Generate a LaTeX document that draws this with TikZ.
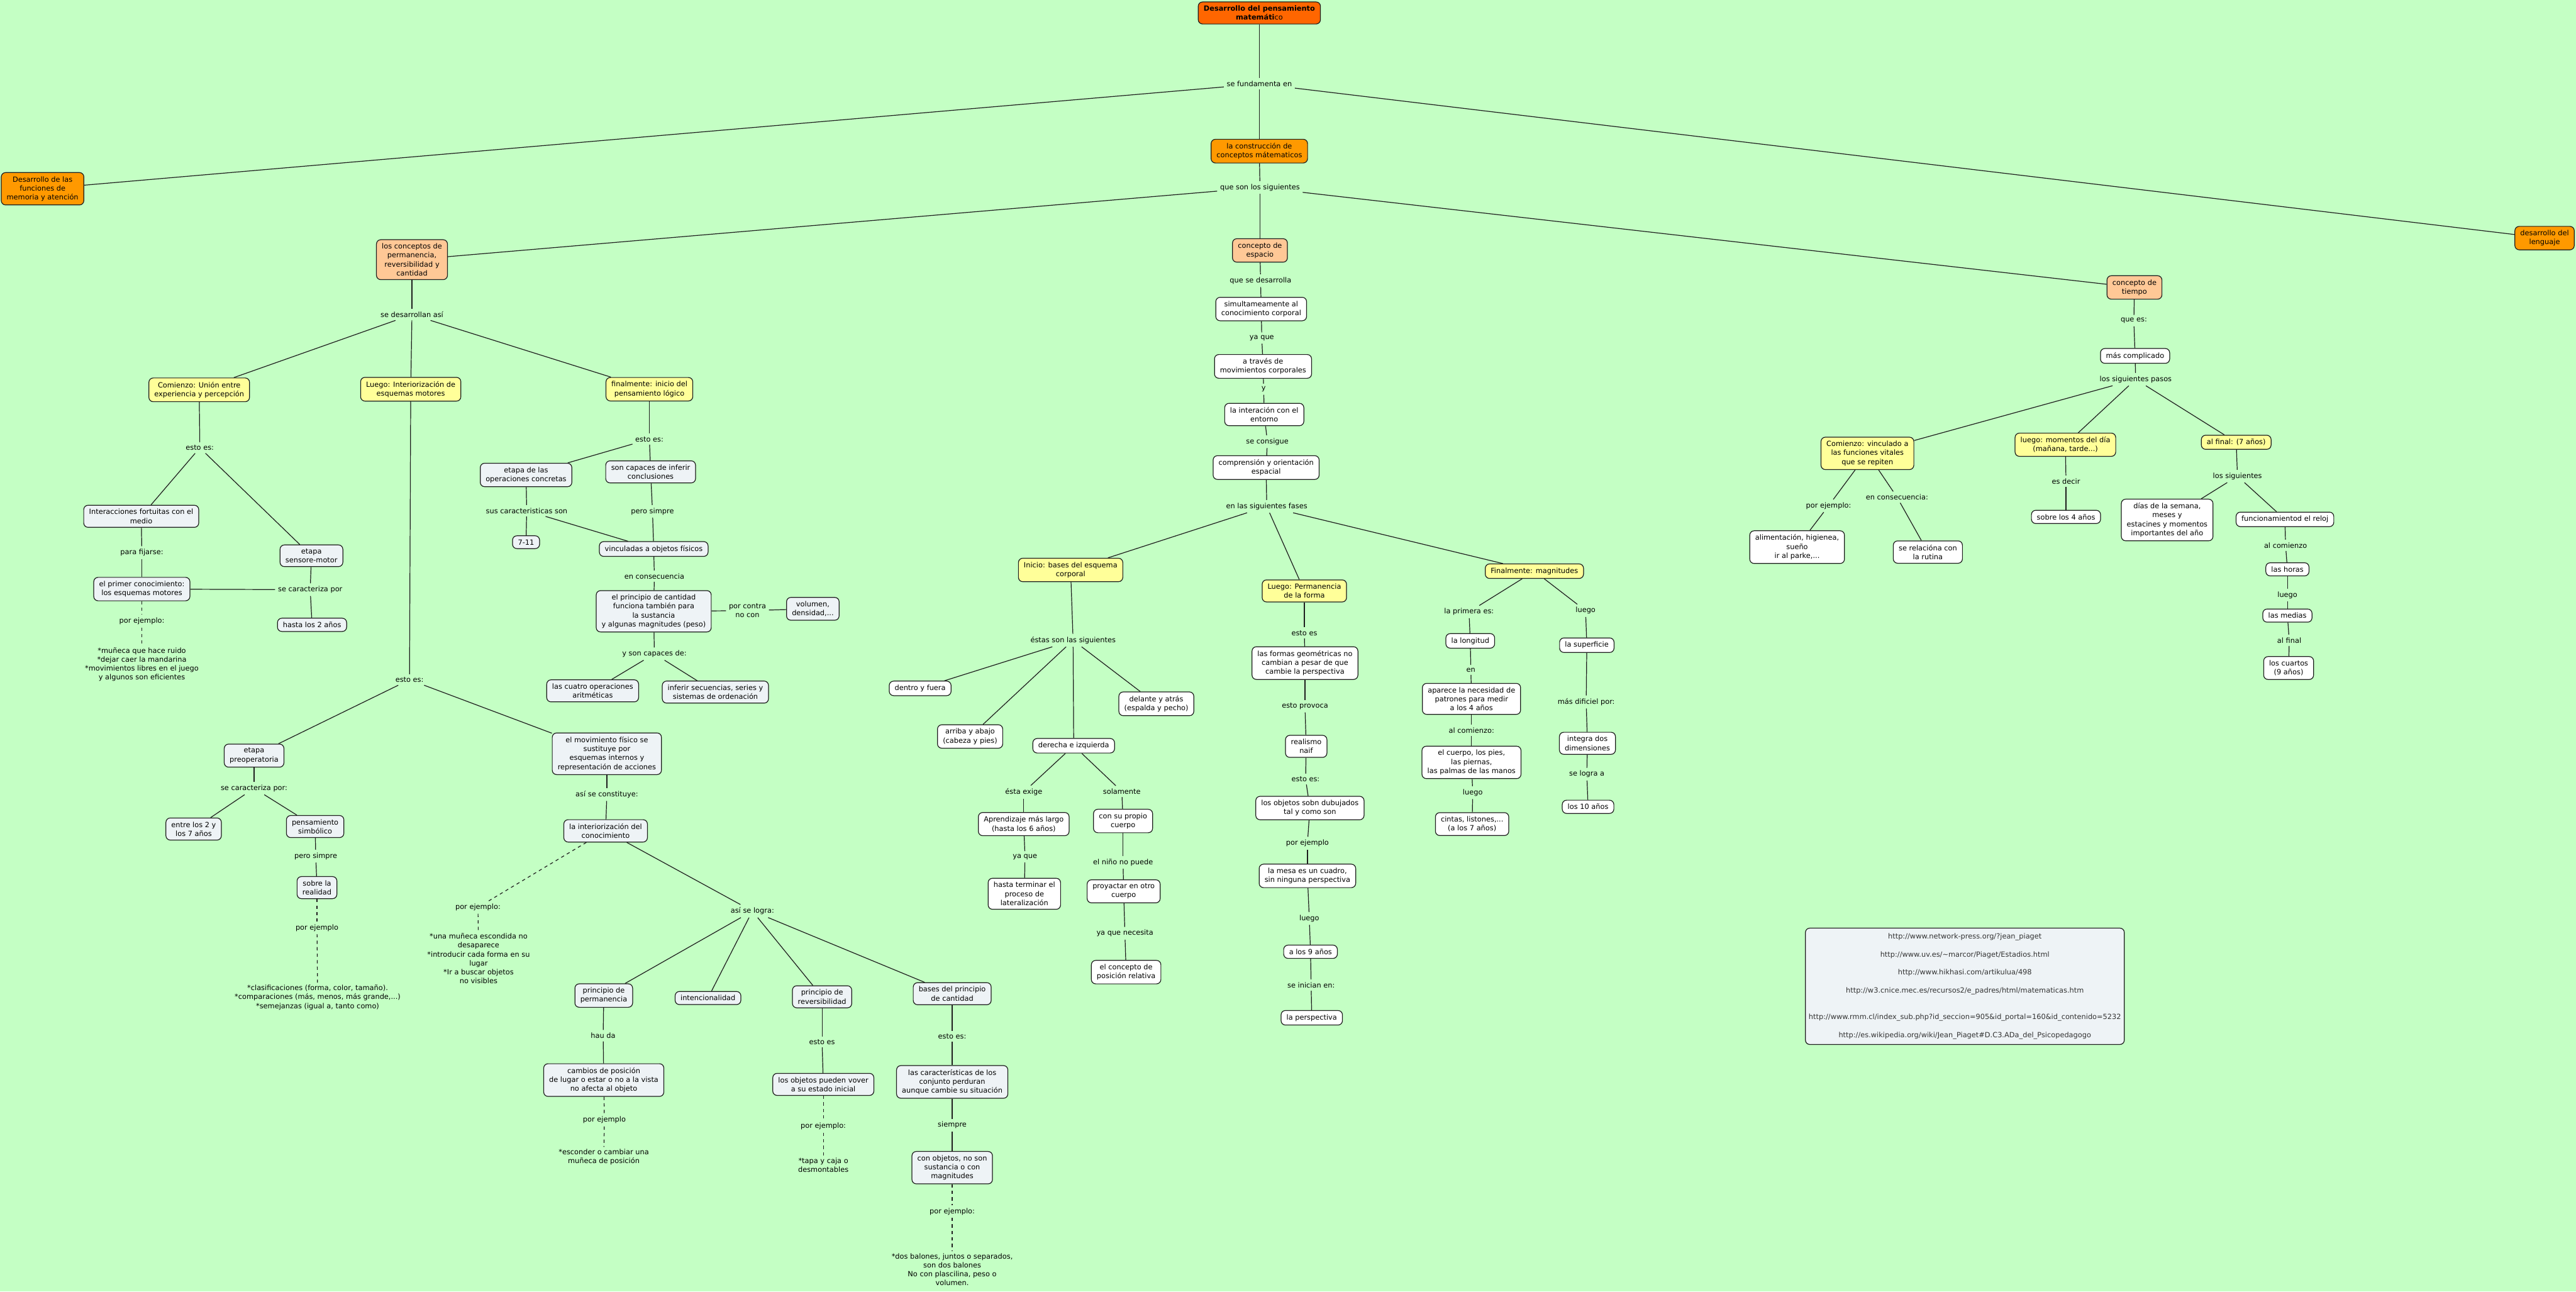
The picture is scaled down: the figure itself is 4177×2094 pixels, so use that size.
\documentclass[tikz,border=0pt]{standalone}
\usepackage{fontspec}
\setmainfont{DejaVu Sans}
\usepackage{tikz}
\usepackage{xcolor}

\definecolor{fondo}{HTML}{C4FFC4}
\definecolor{naranjaosc}{HTML}{FF6600}
\definecolor{naranja}{HTML}{FF9900}
\definecolor{melocoton}{HTML}{FFC896}
\definecolor{amarillo}{HTML}{FFFF99}
\definecolor{gris}{HTML}{EEF3F6}
\definecolor{trazo}{HTML}{1E1E1E}
\newcommand{\mapfont}{\fontsize{6.6}{8.25}\selectfont}

\begin{document}
\begin{tikzpicture}[x=0.02cm, y=-0.02cm,
    base/.style={draw=trazo, rounded corners=4pt, line width=0.7pt, align=center,
      inner xsep=5pt, inner ysep=3.5pt, font=\mapfont, text=black},
    tit/.style={base, fill=naranjaosc},
    nar/.style={base, fill=naranja},
    mel/.style={base, fill=melocoton},
    ama/.style={base, fill=amarillo},
    gri/.style={base, fill=gris},
    bla/.style={base, fill=white},
    enl/.style={align=center, inner sep=2.5pt, font=\mapfont},
    nota/.style={align=center, inner sep=2pt, font=\mapfont},
    con/.style={draw=trazo, line width=0.7pt},
    conej/.style={con, dashed}]

  % Background
  \useasboundingbox (0,0) rectangle (4177,2094);
  \fill[fondo] (0,0) rectangle (4177,2094);

  % Top level
  \node[tit] (titulo) at (2042,21) {\textbf{Desarrollo del pensamiento}\\\textbf{matemáti}co};
  \node[enl] (fund) at (2042,136) {se fundamenta en};
  \node[nar] (memo) at (69,306) {Desarrollo de las\\funciones de\\memoria y atención};
  \node[nar] (cons) at (2042,245) {la construcción de\\conceptos mátematicos};
  \node[nar] (leng) at (4126,386) {desarrollo del\\lenguaje};
  \node[enl] (sig) at (2043,304) {que son los siguientes};
  \node[mel] (perm) at (668,421) {los conceptos de\\permanencia,\\reversibilidad y\\cantidad};
  \node[mel] (esp) at (2043,406) {concepto de\\espacio};
  \node[mel] (tiem) at (3461,466) {concepto de\\tiempo};

  % Permanencia, reversibilidad y cantidad
  \node[enl] (desa) at (668,510) {se desarrollan así};
  \node[ama] (com) at (323,632) {Comienzo: Unión entre\\experiencia y percepción};
  \node[ama] (lue) at (666,631) {Luego: Interiorización de\\esquemas motores};
  \node[ama] (fin) at (1053,631) {finalmente: inicio del\\pensamiento lógico};

  \node[enl] (ee1) at (324,726) {esto es:};
  \node[gri] (inter) at (229,837) {Interacciones fortuitas con el\\medio};
  \node[gri] (senso) at (505,901) {etapa\\sensore-motor};
  \node[enl] (fij) at (230,896) {para fijarse:};
  \node[gri] (prim) at (230,955) {el primer conocimiento:\\los esquemas motores};
  \node[enl] (carac1) at (503,956) {se caracteriza por};
  \node[gri] (dos) at (506,1013) {hasta los 2 años};
  \node[enl] (ej1) at (230,1007) {por ejemplo:};
  \node[nota] (txt1) at (230,1077) {*muñeca que hace ruido\\*dejar caer la mandarina\\*movimientos libres en el juego\\y algunos son eficientes};

  \node[enl] (ee2) at (1053,712) {esto es:};
  \node[gri] (oper) at (853,770) {etapa de las\\operaciones concretas};
  \node[gri] (infe) at (1055,765) {son capaces de inferir\\conclusiones};
  \node[enl] (scar) at (854,828) {sus caracteristicas son};
  \node[enl] (ps1) at (1058,829) {pero simpre};
  \node[gri] (siete) at (853,879) {7-11};
  \node[gri] (vinc) at (1060,890) {vinculadas a objetos físicos};
  \node[enl] (cons2) at (1061,934) {en consecuencia};
  \node[gri] (pcant) at (1060,991) {el principio de cantidad\\funciona también para\\la sustancia\\y algunas magnitudes (peso)};
  \node[enl] (contra) at (1212,990) {por contra\\no con};
  \node[gri] (vol) at (1318,987) {volumen,\\densidad,...};
  \node[enl] (capa) at (1061,1060) {y son capaces de:};
  \node[gri] (cuatro) at (961,1120) {las cuatro operaciones\\aritméticas};
  \node[gri] (secu) at (1160,1122) {inferir secuencias, series y\\sistemas de ordenación};

  \node[enl] (ee3) at (664,1102) {esto es:};
  \node[gri] (preo) at (412,1225) {etapa\\preoperatoria};
  \node[enl] (carac2) at (412,1278) {se caracteriza por:};
  \node[gri] (entre) at (314,1344) {entre los 2 y\\los 7 años};
  \node[gri] (simb) at (511,1340) {pensamiento\\simbólico};
  \node[enl] (ps2) at (512,1388) {pero simpre};
  \node[gri] (real) at (514,1439) {sobre la\\realidad};
  \node[enl] (ej2) at (514,1504) {por ejemplo};
  \node[nota] (txt2) at (515,1617) {*clasificaciones (forma, color, tamaño).\\*comparaciones (más, menos, más grande,...)\\*semejanzas (igual a, tanto como)};

  \node[gri] (movi) at (984,1222) {el movimiento físico se\\sustituye por\\esquemas internos y\\representación de acciones};
  \node[enl] (const) at (984,1288) {así se constituye:};
  \node[gri] (inte) at (982,1347) {la interiorización del\\conocimiento};
  \node[enl] (ej3) at (775,1471) {por ejemplo:};
  \node[nota] (txt3) at (776,1554) {*una muñeca escondida no\\desaparece\\*introducir cada forma en su\\lugar\\*Ir a buscar objetos\\no visibles};
  \node[enl] (logra) at (1220,1477) {así se logra:};
  \node[gri] (ppe) at (979,1614) {principio de\\permanencia};
  \node[gri] (intc) at (1148,1618) {intencionalidad};
  \node[gri] (prev) at (1333,1616) {principio de\\reversibilidad};
  \node[gri] (bcant) at (1544,1611) {bases del principio\\de cantidad};
  \node[enl] (hau) at (978,1679) {hau da};
  \node[gri] (camb) at (979,1751) {cambios de posición\\de lugar o estar o no a la vista\\no afecta al objeto};
  \node[enl] (ej4) at (980,1816) {por ejemplo};
  \node[nota] (txt4) at (979,1876) {*esconder o cambiar una\\muñeca de posición};
  \node[enl] (ee4) at (1333,1689) {esto es};
  \node[gri] (vuel) at (1335,1758) {los objetos pueden vover\\a su estado inicial};
  \node[enl] (ej5) at (1335,1826) {por ejemplo:};
  \node[nota] (txt5) at (1335,1889) {*tapa y caja o\\desmontables};
  \node[enl] (ee5) at (1544,1680) {esto es:};
  \node[gri] (cjto) at (1544,1754) {las características de los\\conjunto perduran\\aunque cambie su situación};
  \node[enl] (siem) at (1544,1824) {siempre};
  \node[gri] (cobj) at (1544,1893) {con objetos, no son\\sustancia o con\\magnitudes};
  \node[enl] (ej6) at (1544,1964) {por ejemplo:};
  \node[nota] (txt6) at (1544,2058) {*dos balones, juntos o separados,\\son dos balones\\No con plascilina, peso o\\volumen.};

  % Espacio
  \node[enl] (desr) at (2044,455) {que se desarrolla};
  \node[bla] (simu) at (2045,501) {simultameamente al\\conocimiento corporal};
  \node[enl] (yq1) at (2046,548) {ya que};
  \node[bla] (trav) at (2048,594) {a través de\\movimientos corporales};
  \node[enl] (yy) at (2049,631) {y};
  \node[bla] (ent) at (2050,672) {la interación con el\\entorno};
  \node[enl] (cons3) at (2055,716) {se consigue};
  \node[bla] (orie) at (2053,758) {comprensión y orientación\\espacial};
  \node[enl] (fases) at (2054,821) {en las siguientes fases};
  \node[ama] (ini) at (1736,924) {Inicio: bases del esquema\\corporal};
  \node[ama] (lpf) at (2115,958) {Luego: Permanencia\\de la forma};
  \node[ama] (mag) at (2488,926) {Finalmente: magnitudes};

  \node[enl] (estas) at (1740,1038) {éstas son las siguientes};
  \node[bla] (dent) at (1492,1116) {dentro y fuera};
  \node[bla] (arri) at (1573,1194) {arriba y abajo\\(cabeza y pies)};
  \node[bla] (dere) at (1741,1209) {derecha e izquierda};
  \node[bla] (dela) at (1875,1141) {delante y atrás\\(espalda y pecho)};
  \node[enl] (exig) at (1660,1284) {ésta exige};
  \node[enl] (sola) at (1819,1283) {solamente};
  \node[bla] (apre) at (1660,1336) {Aprendizaje más largo\\(hasta los 6 años)};
  \node[bla] (prop) at (1821,1331) {con su propio\\cuerpo};
  \node[enl] (yq2) at (1662,1389) {ya que};
  \node[bla] (late) at (1661,1449) {hasta terminar el\\proceso de\\lateralización};
  \node[enl] (nino) at (1821,1398) {el niño no puede};
  \node[bla] (proy) at (1822,1445) {proyactar en otro\\cuerpo};
  \node[enl] (nece) at (1824,1513) {ya que necesita};
  \node[bla] (rela) at (1826,1576) {el concepto de\\posición relativa};

  \node[enl] (ee6) at (2115,1026) {esto es};
  \node[bla] (geom) at (2116,1075) {las formas geométricas no\\cambian a pesar de que\\cambie la perspectiva};
  \node[enl] (prov) at (2116,1145) {esto provoca};
  \node[bla] (naif) at (2118,1210) {realismo\\naif};
  \node[enl] (ee7) at (2117,1263) {esto es:};
  \node[bla] (dibu) at (2124,1310) {los objetos sobn dubujados\\tal y como son};
  \node[enl] (ej7) at (2120,1367) {por ejemplo};
  \node[bla] (mesa) at (2120,1420) {la mesa es un cuadro,\\sin ninguna perspectiva};
  \node[enl] (lg1) at (2123,1489) {luego};
  \node[bla] (nueve) at (2125,1543) {a los 9 años};
  \node[enl] (inic) at (2126,1597) {se inician en:};
  \node[bla] (pers) at (2127,1650) {la perspectiva};

  \node[enl] (prim2) at (2382,992) {la primera es:};
  \node[enl] (lg2) at (2571,990) {luego};
  \node[bla] (long) at (2384,1039) {la longitud};
  \node[enl] (en) at (2385,1086) {en};
  \node[bla] (patr) at (2386,1133) {aparece la necesidad de\\patrones para medir\\a los 4 años};
  \node[enl] (alc1) at (2386,1184) {al comienzo:};
  \node[bla] (cuer) at (2386,1236) {el cuerpo, los pies,\\las piernas,\\las palmas de las manos};
  \node[enl] (lg3) at (2388,1285) {luego};
  \node[bla] (cint) at (2387,1336) {cintas, listones,...\\(a los 7 años)};
  \node[bla] (supe) at (2573,1046) {la superficie};
  \node[enl] (difi) at (2572,1138) {más dificiel por:};
  \node[bla] (dime) at (2574,1205) {integra dos\\dimensiones};
  \node[enl] (logr) at (2573,1255) {se logra a};
  \node[bla] (diez) at (2575,1308) {los 10 años};

  % Tiempo
  \node[enl] (quees) at (3460,520) {que es:};
  \node[bla] (comp) at (3462,577) {más complicado};
  \node[enl] (pasos) at (3463,615) {los siguientes pasos};
  \node[ama] (vita) at (3028,735) {Comienzo: vinculado a\\las funciones vitales\\que se repiten};
  \node[ama] (mome) at (3349,721) {luego: momentos del día\\(mañana, tarde...)};
  \node[ama] (afin) at (3626,717) {al final: (7 años)};
  \node[enl] (ej8) at (2965,820) {por ejemplo:};
  \node[enl] (enc) at (3076,806) {en consecuencia:};
  \node[bla] (alim) at (2914,887) {alimentación, higienea,\\sueño\\ir al parke,...};
  \node[bla] (ruti) at (3126,895) {se relacióna con\\la rutina};
  \node[enl] (dec) at (3350,780) {es decir};
  \node[bla] (cuat) at (3350,838) {sobre los 4 años};
  \node[enl] (lsig) at (3628,772) {los siguientes};
  \node[bla] (dias) at (3514,843) {días de la semana,\\meses y\\estacines y momentos\\importantes del año};
  \node[bla] (relo) at (3705,842) {funcionamientod el reloj};
  \node[enl] (alc2) at (3706,884) {al comienzo};
  \node[bla] (hora) at (3709,923) {las horas};
  \node[enl] (lg4) at (3709,965) {luego};
  \node[bla] (medi) at (3709,998) {las medias};
  \node[enl] (alf) at (3712,1038) {al final};
  \node[bla] (cuar) at (3711,1083) {los cuartos\\(9 años)};

  % Sources
  \node[gri, text=black!80, inner xsep=3pt, inner ysep=5pt] (urls) at (3186,1599) {%
    http://www.network-press.org/?jean\_piaget\\[8.25pt]
    http://www.uv.es/\textasciitilde marcor/Piaget/Estadios.html\\[8.25pt]
    http://www.hikhasi.com/artikulua/498\\[8.25pt]
    http://w3.cnice.mec.es/recursos2/e\_padres/html/matematicas.htm\\[16.5pt]
    http://www.rmm.cl/index\_sub.php?id\_seccion=905\&id\_portal=160\&id\_contenido=5232\\[8.25pt]
    http://es.wikipedia.org/wiki/Jean\_Piaget\#D.C3.ADa\_del\_Psicopedagogo};

  % Connectors
  \foreach \a/\b in {titulo/fund, fund/memo, fund/cons, fund/leng, cons/sig, sig/perm, sig/esp, sig/tiem,
      perm/desa, desa/com, desa/lue, desa/fin,
      com/ee1, ee1/inter, ee1/senso, inter/fij, fij/prim, senso/carac1, carac1/prim, carac1/dos,
      fin/ee2, ee2/oper, ee2/infe, oper/scar, scar/siete, scar/vinc, infe/ps1, ps1/vinc,
      vinc/cons2, cons2/pcant, pcant/contra, contra/vol, pcant/capa, capa/cuatro, capa/secu,
      lue/ee3, ee3/preo, ee3/movi, preo/carac2, carac2/entre, carac2/simb, simb/ps2, ps2/real,
      movi/const, const/inte, inte/logra, logra/ppe, logra/intc, logra/prev, logra/bcant,
      ppe/hau, hau/camb, prev/ee4, ee4/vuel, bcant/ee5, ee5/cjto, cjto/siem, siem/cobj,
      esp/desr, desr/simu, simu/yq1, yq1/trav, trav/yy, yy/ent, ent/cons3, cons3/orie,
      orie/fases, fases/ini, fases/lpf, fases/mag,
      ini/estas, estas/dent, estas/arri, estas/dere, estas/dela, dere/exig, exig/apre, apre/yq2, yq2/late,
      dere/sola, sola/prop, prop/nino, nino/proy, proy/nece, nece/rela,
      lpf/ee6, ee6/geom, geom/prov, prov/naif, naif/ee7, ee7/dibu, dibu/ej7, ej7/mesa,
      mesa/lg1, lg1/nueve, nueve/inic, inic/pers,
      mag/prim2, prim2/long, long/en, en/patr, patr/alc1, alc1/cuer, cuer/lg3, lg3/cint,
      mag/lg2, lg2/supe, supe/difi, difi/dime, dime/logr, logr/diez,
      tiem/quees, quees/comp, comp/pasos, pasos/vita, pasos/mome, pasos/afin,
      vita/ej8, ej8/alim, vita/enc, enc/ruti, mome/dec, dec/cuat,
      afin/lsig, lsig/dias, lsig/relo, relo/alc2, alc2/hora, hora/lg4, lg4/medi, medi/alf, alf/cuar}
    \draw[con] (\a) -- (\b);

  % Examples (dashed)
  \foreach \a/\b in {prim/ej1, ej1/txt1, real/ej2, ej2/txt2, inte/ej3, ej3/txt3,
      camb/ej4, ej4/txt4, vuel/ej5, ej5/txt5, cobj/ej6, ej6/txt6}
    \draw[conej] (\a) -- (\b);
\end{tikzpicture}
\end{document}
